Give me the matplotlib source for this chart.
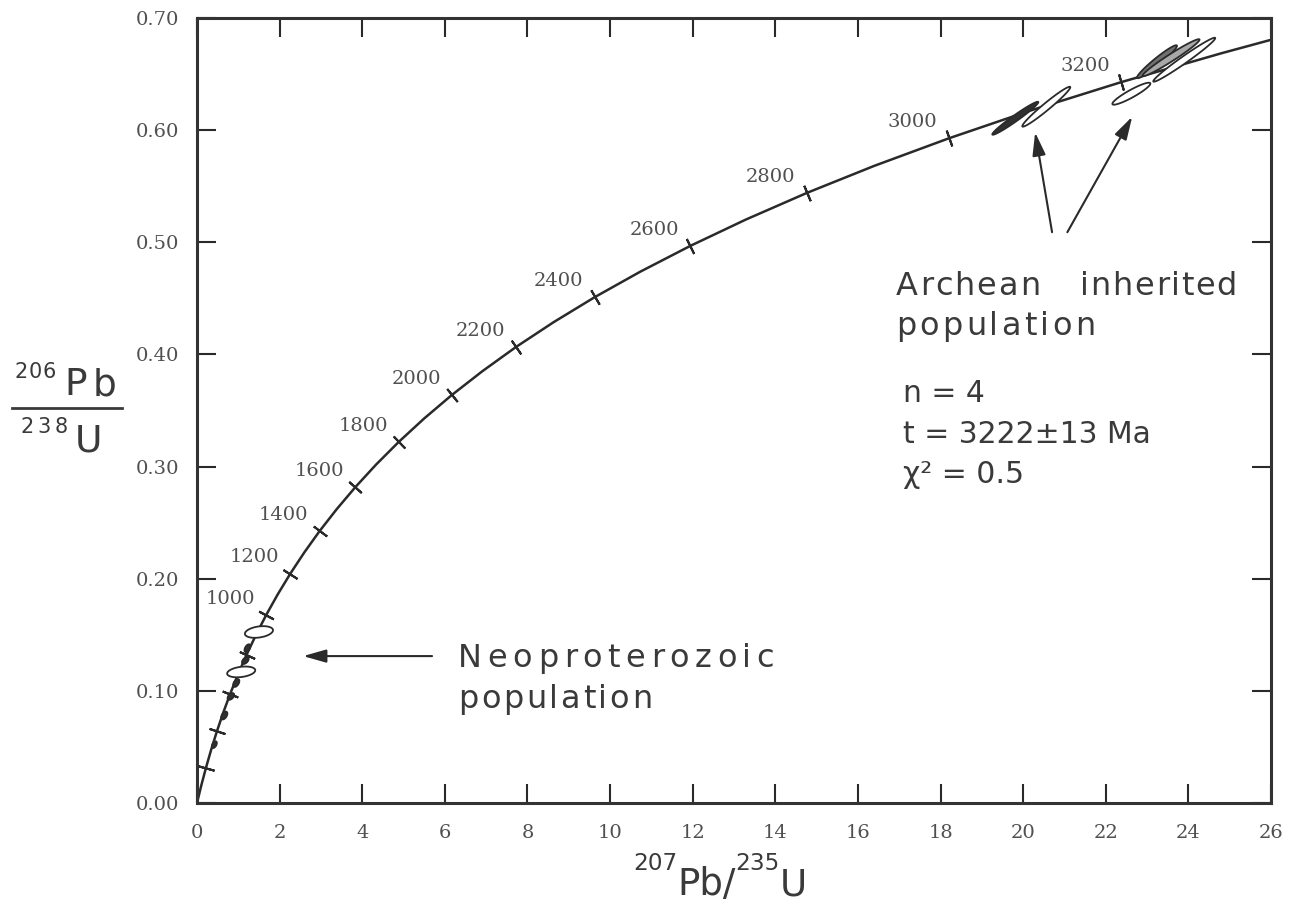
import numpy as np
import matplotlib
matplotlib.use('Agg')
import matplotlib.pyplot as plt
from matplotlib.lines import Line2D
from matplotlib.transforms import IdentityTransform
from matplotlib.font_manager import FontProperties, findfont, get_font

W, H, DPI = 1290, 906, 100
INK  = '#2a2a2a'
TEXT = '#3a3a3a'
NUM  = '#505050'

# concordia curve (age in Ma)
ages = [0, 100, 200, 300, 400, 500, 600, 700, 800, 900, 1000, 1100, 1200, 1300, 1400,
        1500, 1600, 1700, 1800, 1900, 2000, 2100, 2200, 2300, 2400, 2500, 2600, 2700,
        2800, 2900, 3000, 3100, 3200, 3300, 3346]
pb207_u235 = [0.0, 0.1035, 0.2177, 0.3438, 0.4828, 0.6363, 0.8056, 0.9925, 1.1987, 1.4264,
              1.6774, 1.9546, 2.2603, 2.5975, 2.9701, 3.3814, 3.8342, 4.3345, 4.8867,
              5.4958, 6.1686, 6.9103, 7.7291, 8.6324, 9.6297, 10.730, 11.943, 13.283,
              14.762, 16.392, 18.193, 20.179, 22.372, 24.792, 26.0]
pb206_u238 = [0.0, 0.01563, 0.03151, 0.04764, 0.06402, 0.08065, 0.09754, 0.11470, 0.13213,
              0.14983, 0.16782, 0.18606, 0.20460, 0.22343, 0.24260, 0.26198, 0.28170,
              0.30175, 0.32210, 0.34277, 0.36380, 0.38509, 0.40680, 0.42874, 0.45110,
              0.47376, 0.49680, 0.52020, 0.54400, 0.56810, 0.59260, 0.61751, 0.64280,
              0.66848, 0.68056]
tick_ages  = list(range(200, 3201, 200))
label_ages = list(range(1000, 3201, 200))

# analyses: centre, half width of the 2 sigma ellipse in x and y, error correlation
ell_x   = [20.56, 19.81, 22.62, 23.24, 23.58, 23.90,  1.50,  1.07,  1.22,  1.17,  0.95,  0.82,  0.66,  0.42]
ell_sx  = [0.581, 0.557, 0.460, 0.484, 0.690, 0.750, 0.340, 0.340, 0.070, 0.080, 0.075, 0.080, 0.075, 0.060]
ell_y   = [0.6209, 0.6106, 0.6325, 0.6610, 0.6646, 0.6628, 0.1525, 0.1169, 0.1380, 0.1270, 0.1070, 0.0950, 0.0780, 0.0520]
ell_sy  = [0.0178, 0.0147, 0.0098, 0.0147, 0.0165, 0.0196, 0.0052, 0.0048, 0.0035, 0.0030, 0.0035, 0.0030, 0.0035, 0.0030]
ell_rho = [0.974, 0.975, 0.920, 0.961, 0.974, 0.981, 0.30, 0.30, 0.5, 0.5, 0.5, 0.5, 0.5, 0.5]
ell_fc  = ['white', '#303030', 'white', '#707070', '#a8a8a8', 'white',
           'white', 'white', '#303030', '#303030', '#303030', '#303030', '#303030', '#303030']

x_ticks = list(range(0, 27, 2))
y_ticks = [0.0, 0.1, 0.2, 0.3, 0.4, 0.5, 0.6, 0.7]
y_tick_labels = ['0.00', '0.10', '0.20', '0.30', '0.40', '0.50', '0.60', '0.70']


def advances(s, size, family='DejaVu Sans'):
  font = get_font(findfont(FontProperties(family=family)))
  font.set_size(size, DPI)
  return [font.load_char(ord(c)).linearHoriAdvance / 65536 for c in s]

def put(fig, x, y, s, size, **kw):
  # x, y in pixels from the top left corner of the picture, y on the baseline
  return fig.text(x, H - y, s, fontsize=size, transform=IdentityTransform(), ha='left',
                  va='baseline', color=TEXT, family='DejaVu Sans', **kw)

def spread(fig, x0, x1, y, s, size):
  # letter spaced word running from x0 to x1
  adv = advances(s, size)
  track = (x1 - x0 - sum(adv)) / max(len(s) - 1, 1)
  x = x0
  for c, a in zip(s, adv):
    put(fig, x, y, c, size)
    x += a + track

def chain(fig, x, y, parts):
  for s, size, rise in parts:
    put(fig, x, y - rise, s, size)
    x += sum(advances(s, size))


plt.rcParams['font.family'] = 'DejaVu Serif'
fig = plt.figure(figsize=(W / DPI, H / DPI), dpi=DPI)
ax = fig.add_axes([197 / W, 1 - 803 / H, (1271 - 197) / W, (803 - 18) / H])
ax.set_xlim(0, 26)
ax.set_ylim(0, 0.7)

ax.plot(pb207_u235, pb206_u238, color=INK, lw=1.8, zorder=2)

# age ticks across the concordia
xy = ax.transData.transform(np.column_stack([pb207_u235, pb206_u238]))
for age in tick_ages:
  i = ages.index(age)
  dx, dy = xy[i + 1] - xy[i - 1]
  ang = np.degrees(np.arctan2(dy, dx))
  ax.plot(pb207_u235[i], pb206_u238[i], marker=(2, 2, ang), ms=12, mew=1.5, color=INK, zorder=2)
for age in label_ages:
  i = ages.index(age)
  ax.annotate(str(age), (pb207_u235[i], pb206_u238[i]), xytext=(-8, 8), textcoords='offset points',
              ha='right', va='baseline', fontsize=14, color=NUM)

# error ellipses
t = np.linspace(0, 2 * np.pi, 120)
for x, sx, y, sy, r, fc in zip(ell_x, ell_sx, ell_y, ell_sy, ell_rho, ell_fc):
  ax.fill(x + sx * np.cos(t), y + sy * (r * np.cos(t) + np.sqrt(1 - r * r) * np.sin(t)),
          facecolor=fc, edgecolor=INK, lw=1.3, zorder=3)

# arrows
arrow = dict(arrowstyle='-|>,head_length=0.7,head_width=0.2', mutation_scale=20, color=INK, lw=1.5,
             shrinkA=0, shrinkB=0)
ax.annotate('', xy=(2.57, 0.131), xytext=(5.69, 0.131), arrowprops=arrow)
ax.annotate('', xy=(20.29, 0.598), xytext=(20.70, 0.509), arrowprops=arrow)
ax.annotate('', xy=(22.64, 0.612), xytext=(21.07, 0.509), arrowprops=arrow)

ax.set_xticks(x_ticks)
ax.set_xticklabels([str(v) for v in x_ticks])
ax.set_yticks(y_ticks)
ax.set_yticklabels(y_tick_labels)
ax.tick_params(direction='in', length=14, width=1.5, top=True, right=True, labelsize=14,
               labelcolor=NUM, color=INK)
ax.tick_params(axis='x', pad=15)
ax.tick_params(axis='y', pad=13)
for sp in ax.spines.values():
  sp.set_linewidth(2.2)
  sp.set_color('#333333')

# annotations
spread(fig, 458, 774, 667, 'Neoproterozoic', 23)
spread(fig, 458, 652, 708, 'population', 23)
spread(fig, 896, 1040, 295, 'Archean', 23)
spread(fig, 1080, 1237, 295, 'inherited', 23)
spread(fig, 896, 1095, 335, 'population', 23)
put(fig, 903, 402, 'n = 4', 21.5)
put(fig, 903, 443, 't = 3222\u00b113 Ma', 21.5)
put(fig, 903, 483, '\u03c7\u00b2 = 0.5', 21.5)

# axis titles
chain(fig, 633, 895, [('207', 16.7, 25), ('Pb/', 26.7, 0), ('235', 16.7, 25), ('U', 26.7, 0)])
spread(fig, 14, 56, 378, '206', 15)
put(fig, 64, 395, 'P', 27)
put(fig, 93, 395, 'b', 27)
fig.add_artist(Line2D([12, 122], [H - 408, H - 408], transform=IdentityTransform(), lw=2, color=TEXT))
spread(fig, 20, 68, 433, '238', 15)
put(fig, 75, 452, 'U', 27)

fig.savefig('out.png', dpi=DPI)
